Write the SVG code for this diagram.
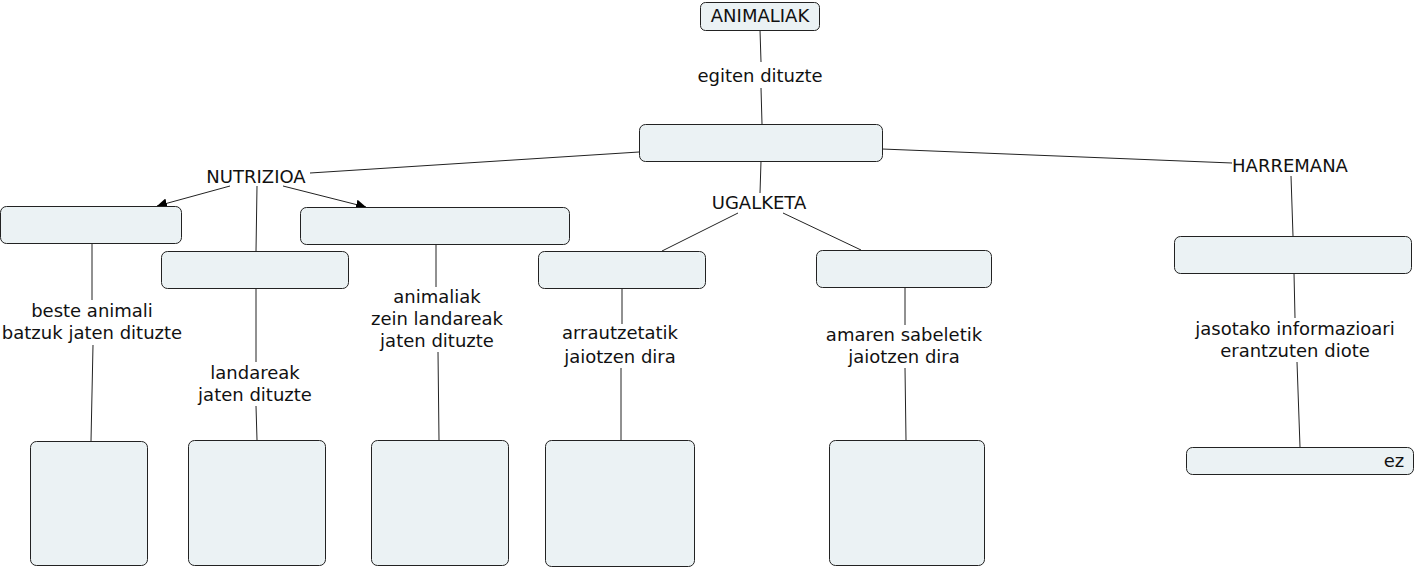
<svg xmlns="http://www.w3.org/2000/svg" width="1416" height="568" viewBox="0 0 1416 568">
<style>
.n{fill:#ebf2f4;stroke:#222;stroke-width:1}
.t{font-family:"DejaVu Sans",Verdana,sans-serif;font-size:18px;fill:#111;text-anchor:middle}
.c{stroke:#222;stroke-width:1;fill:none}
</style>
<defs>
<marker id="ah" viewBox="0 0 10 10" refX="10" refY="5" markerWidth="10" markerHeight="10" markerUnits="userSpaceOnUse" orient="auto"><path d="M0,0L10,5L0,10z" fill="#000"/></marker>
</defs>
<rect width="1416" height="568" fill="#fff"/>
<g id="connectors">
<path class="c" d="M760,30L761,62M761,88L762,124"/>
<path class="c" d="M639,152L310,173"/>
<path class="c" d="M230,186L157,206" marker-end="url(#ah)"/>
<path class="c" d="M283,186L366,207" marker-end="url(#ah)"/>
<path class="c" d="M257,186L256,251"/>
<path class="c" d="M761,161L760,193M738,213L662,251M783,213L861,250"/>
<path class="c" d="M882,149L1232,163M1291,176L1293,236"/>
<path class="c" d="M92,243L92,300M93,345L91,441"/>
<path class="c" d="M256,288L256,362M256,406L257,440"/>
<path class="c" d="M436,244L436,287M438,352L439,440"/>
<path class="c" d="M622,288L622,324M621,368L621,440"/>
<path class="c" d="M905,287L905,325M905,368L906,440"/>
<path class="c" d="M1294,273L1295,318M1297,362L1300,447"/>
</g>
<g id="lbl-egiten"><text class="t" x="760" y="82">egiten dituzte</text></g>
<g id="lbl-nutrizioa"><text class="t" x="256" y="183">NUTRIZIOA</text></g>
<g id="lbl-ugalketa"><text class="t" x="759" y="209">UGALKETA</text></g>
<g id="lbl-harremana"><text class="t" x="1290" y="172">HARREMANA</text></g>
<g id="lbl-beste"><text class="t" x="92" y="317">beste animali</text><text class="t" x="92" y="339">batzuk jaten dituzte</text></g>
<g id="lbl-landareak"><text class="t" x="255" y="379">landareak</text><text class="t" x="255" y="401">jaten dituzte</text></g>
<g id="lbl-animaliak"><text class="t" x="437" y="303">animaliak</text><text class="t" x="437" y="325">zein landareak</text><text class="t" x="437" y="347">jaten dituzte</text></g>
<g id="lbl-arrautz"><text class="t" x="620" y="339">arrautzetatik</text><text class="t" x="620" y="363">jaiotzen dira</text></g>
<g id="lbl-amaren"><text class="t" x="904" y="341">amaren sabeletik</text><text class="t" x="904" y="363">jaiotzen dira</text></g>
<g id="lbl-jasotako"><text class="t" x="1295" y="335">jasotako informazioari</text><text class="t" x="1295" y="357">erantzuten diote</text></g>
<g id="n-animaliak"><rect class="n" x="700.5" y="2.5" width="119" height="28" rx="5"/><text class="t" x="760" y="22">ANIMALIAK</text></g>
<g id="n-center"><rect class="n" x="639.5" y="124.5" width="243" height="37" rx="6"/></g>
<g id="n-a"><rect class="n" x="0.5" y="206.5" width="181" height="37" rx="6"/></g>
<g id="n-b"><rect class="n" x="161.5" y="251.5" width="187" height="37" rx="6"/></g>
<g id="n-c"><rect class="n" x="300.5" y="207.5" width="269" height="37" rx="6"/></g>
<g id="n-d"><rect class="n" x="538.5" y="251.5" width="167" height="37" rx="6"/></g>
<g id="n-e"><rect class="n" x="816.5" y="250.5" width="175" height="37" rx="6"/></g>
<g id="n-f"><rect class="n" x="1174.5" y="236.5" width="237" height="37" rx="6"/></g>
<g id="n-b1"><rect class="n" x="30.5" y="441.5" width="117" height="124" rx="6"/></g>
<g id="n-b2"><rect class="n" x="188.5" y="440.5" width="137" height="125" rx="6"/></g>
<g id="n-b3"><rect class="n" x="371.5" y="440.5" width="137" height="125" rx="6"/></g>
<g id="n-b4"><rect class="n" x="545.5" y="440.5" width="149" height="126" rx="6"/></g>
<g id="n-b5"><rect class="n" x="829.5" y="440.5" width="155" height="125" rx="6"/></g>
<g id="n-ez"><rect class="n" x="1186.5" y="447.5" width="227" height="27" rx="6"/><text class="t" x="1394" y="467">ez</text></g>
</svg>
